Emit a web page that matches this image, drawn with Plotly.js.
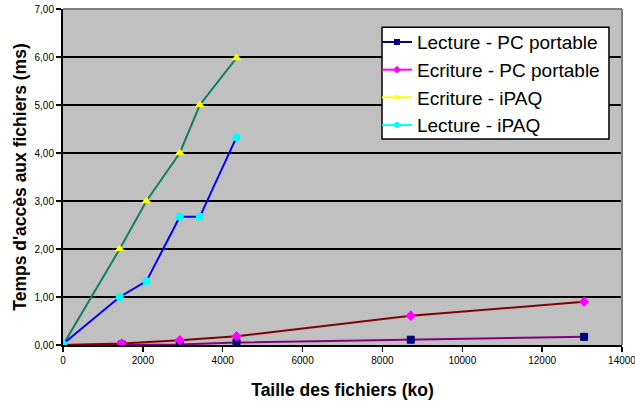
<!DOCTYPE html>
<html><head><meta charset="utf-8">
<script src="https://cdn.plot.ly/plotly-3.0.1.min.js"></script>
<style>html,body{margin:0;padding:0;background:#fff;}#c{width:635px;height:401px;}</style>
</head><body><div id="c"></div>
<script>
var seriesNames = ['Lecture - PC portable', 'Ecriture - PC portable', 'Ecriture - iPAQ', 'Lecture - iPAQ'];
var xPC = [0, 1470, 2925, 4346, 8710, 13050];
var lecturePC = [0, 0.01, 0.01, 0.05, 0.11, 0.17];
var ecriturePC = [0, 0.03, 0.10, 0.18, 0.61, 0.90];
var xIPAQ = [0, 1420, 2090, 2925, 3426, 4346];
var ecritureIPAQ = [0, 2.00, 3.00, 4.00, 5.00, 5.98];
var lectureIPAQ = [0.02, 1.00, 1.33, 2.67, 2.67, 4.33];
var yTickVals = [0, 1, 2, 3, 4, 5, 6, 7];
var yTickText = ['0,00', '1,00', '2,00', '3,00', '4,00', '5,00', '6,00', '7,00'];
var xTickVals = [0, 2000, 4000, 6000, 8000, 10000, 12000, 14000];

var markerColors = ['#000080', '#FF00FF', '#FFFF00', '#00FFFF'];
var lineColors = ['#800080', '#800000', '#0F7F5F', '#0000FF'];
var symbols = ['square', 'diamond', 'triangle-up', 'circle'];
var sizes = [7, 8, 9, 8];
var xs = [xPC, xPC, xIPAQ, xIPAQ];
var ys = [lecturePC, ecriturePC, ecritureIPAQ, lectureIPAQ];

var traces = [];
for (var i = 0; i < 4; i++) {
  traces.push({
    x: xs[i], y: ys[i], type: 'scatter', mode: 'lines+markers', showlegend: false,
    line: {color: lineColors[i], width: 2},
    marker: {color: markerColors[i], symbol: symbols[i], size: sizes[i],
             line: {width: i === 0 ? 1 : 0, color: '#000060'}},
    hoverinfo: 'skip'
  });
}
for (var j = 0; j < 4; j++) {
  traces.push({
    x: [null], y: [null], type: 'scatter', mode: 'lines+markers', name: seriesNames[j],
    line: {color: markerColors[j], width: 2},
    marker: {color: markerColors[j], symbol: symbols[j], size: 6}
  });
}

var font = 'Liberation Sans, Arial, sans-serif';
var layout = {
  width: 635, height: 401,
  margin: {l: 63, r: 13, t: 9, b: 56},
  paper_bgcolor: '#ffffff',
  plot_bgcolor: '#C0C0C0',
  font: {family: font, color: '#000'},
  showlegend: true,
  legend: {
    x: 0.5617, y: 0.958, xanchor: 'left', yanchor: 'top',
    bgcolor: 'rgba(0,0,0,0)', borderwidth: 0,
    font: {family: font, size: 19, color: '#000'},
    itemwidth: 30, tracegroupgap: 0
  },
  xaxis: {
    range: [0, 14000], tickvals: xTickVals, ticktext: xTickVals.map(String),
    showgrid: false, zeroline: false, ticklabeloverflow: 'allow',
    showline: true, linecolor: '#000', linewidth: 2,
    ticks: 'outside', ticklen: 5, tickwidth: 1.5, tickcolor: '#000',
    tickfont: {family: font, size: 10, color: '#000'},
    title: {text: 'Taille des fichiers (ko)', font: {family: font, size: 17.5, color: '#000', weight: 'bold'}, standoff: 19}
  },
  yaxis: {
    range: [0, 7], tickvals: yTickVals, ticktext: yTickText,
    showgrid: true, gridcolor: '#000', gridwidth: 1.5, zeroline: false,
    showline: true, linecolor: '#000', linewidth: 2,
    ticks: 'outside', ticklen: 5, tickwidth: 1.5, tickcolor: '#000',
    tickfont: {family: font, size: 10, color: '#000'},
    title: {text: "Temps d'accès aux fichiers (ms)", font: {family: font, size: 17.5, color: '#000', weight: 'bold'}, standoff: 3}
  },
  shapes: [
    {type: 'line', xref: 'paper', yref: 'paper', x0: 0, x1: 1, y0: 1, y1: 1, line: {color: '#808080', width: 2}},
    {type: 'line', xref: 'paper', yref: 'paper', x0: 1, x1: 1, y0: 0, y1: 1, line: {color: '#808080', width: 2}},
    {type: 'rect', xref: 'paper', yref: 'paper', x0: 0.5707, x1: 0.9767, y0: 0.613, y1: 0.946,
     fillcolor: '#ffffff', line: {color: '#000', width: 1.5}, layer: 'above'}
  ]
};
Plotly.newPlot('c', traces, layout, {staticPlot: true, displayModeBar: false});
</script></body></html>
